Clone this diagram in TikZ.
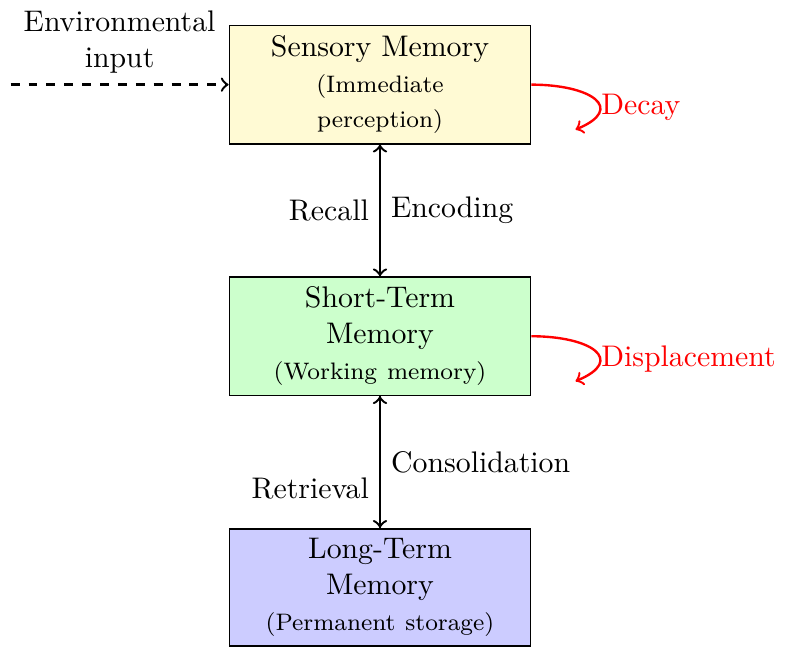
\documentclass[tikz,border=0pt]{standalone}
\usetikzlibrary{positioning,calc}
\definecolor{sensoryfill}{RGB}{255,250,212}
\tikzset{
	memorybox/.style={draw,semithick,align=center,text width=3cm,minimum width=3.55cm},
	flowarrow/.style={thick,->,black},
	lossarrow/.style={thick,->,red},
	losstext/.style={text=red,anchor=west}
}
\begin{document}
\begin{tikzpicture}
	\useasboundingbox (-127.5pt,-193.1pt) rectangle (136.9pt,28.4pt);
	
	% The three stores
	\node[memorybox,fill=sensoryfill] (Sensory) at (0,0) {Sensory Memory\\{\footnotesize (Immediate perception)}};
	\node[memorybox,fill=green!20,below=1.55cm of Sensory] (Stm) {Short-Term Memory\\{\footnotesize (Working memory)}};
	\node[memorybox,fill=blue!20,below=1.55cm of Stm] (Ltm) {Long-Term Memory\\{\footnotesize (Permanent storage)}};
	
	% Input from outside
	\coordinate[left=2.57cm of Sensory.west] (Input);
	\draw [thick,dashed,->] (Input) -- node[above,align=center] (InputText) {Environmental\\input} (Sensory.west);
	
	% Between the stores
	\draw [flowarrow] (Sensory) -- node[right] (Encode) {Encoding} (Stm);
	\draw [flowarrow] (Stm) -- node[left] (Recall) {Recall} (Sensory);
	
	\draw [flowarrow] (Stm) -- node[right] (Consolidate) {Consolidation} (Ltm);
	\draw [flowarrow] (Ltm) -- node[left,pos=0.3] (Retrieve) {Retrieval} (Stm);
	
	% Forgetting
	\coordinate (DecayEnd) at ($(Sensory.east)+(0.52cm,-0.53cm)$);
	\coordinate (DisplaceEnd) at ($(Stm.east)+(0.52cm,-0.53cm)$);
	
	\draw [lossarrow] (Sensory.east)
	.. controls +(0.7cm,0) and +(0.6cm,0.25cm) .. (DecayEnd);
	\draw [lossarrow] (Stm.east)
	.. controls +(0.7cm,0) and +(0.6cm,0.25cm) .. (DisplaceEnd);
	
	\node[losstext] (Decay) at ($(Sensory.east)+(0.7cm,-0.27cm)$) {Decay};
	\node[losstext] (Displace) at ($(Stm.east)+(0.7cm,-0.27cm)$) {Displacement};
	
\end{tikzpicture}
\end{document}
